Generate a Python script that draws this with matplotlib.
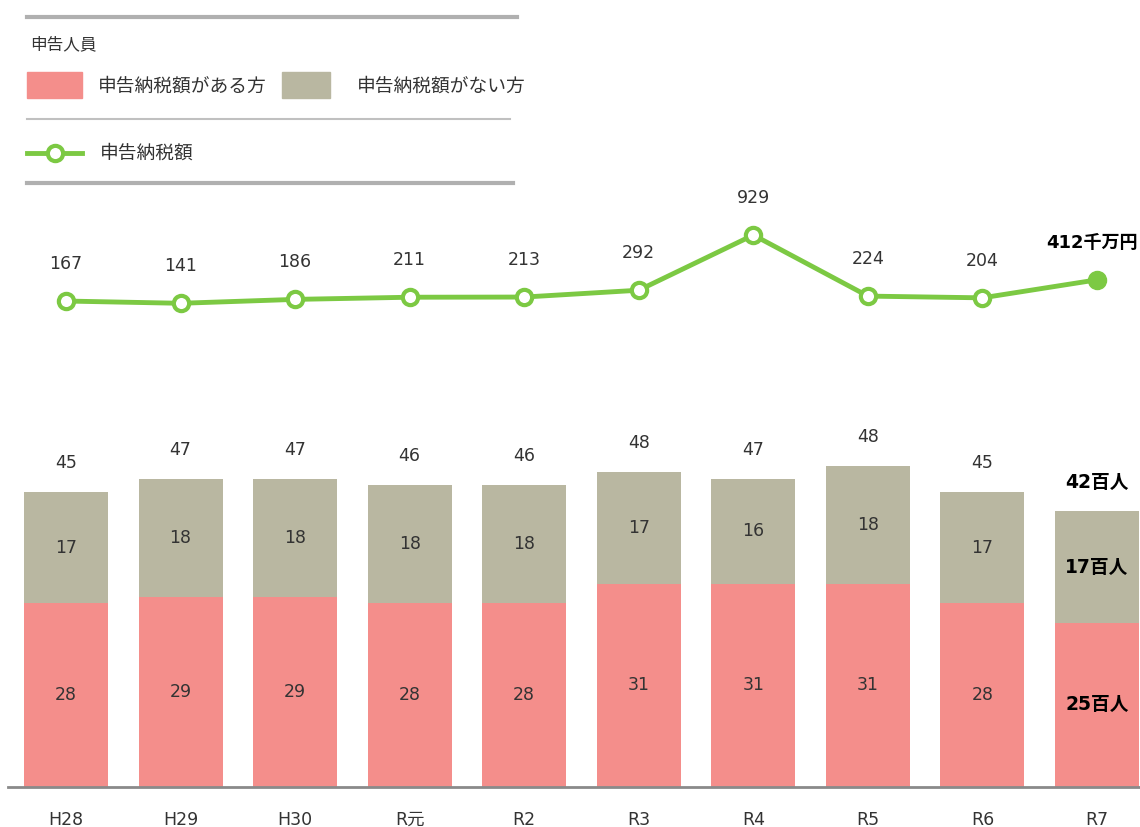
import matplotlib.pyplot as plt
from matplotlib.lines import Line2D
from matplotlib.patches import Rectangle

plt.rcParams['font.family'] = ['DejaVu Sans', 'Noto Sans CJK JP']

# データ
years = ['H28', 'H29', 'H30', 'R元', 'R2', 'R3', 'R4', 'R5', 'R6', 'R7']
with_tax = [28, 29, 29, 28, 28, 31, 31, 31, 28, 25]      # 申告納税額がある方 (百人)
without_tax = [17, 18, 18, 18, 18, 17, 16, 18, 17, 17]   # 申告納税額がない方 (百人)
totals = [45, 47, 47, 46, 46, 48, 47, 48, 45, 42]
tax_amount = [167, 141, 186, 211, 213, 292, 929, 224, 204, 412]  # 千万円

c_pink = '#F48E8B'
c_khaki = '#B9B7A1'
c_green = '#7CC943'
c_text = '#333333'
jp = ['Noto Sans CJK JP', 'DejaVu Sans']

W, H = 1140, 827
fig = plt.figure(figsize=(W / 100, H / 100), dpi=100)


def fx(px):
    return px / W


def fy(py):
    return 1 - py / H


x = list(range(len(years)))
step = 114.56
xl = ((8 - 66) / step, (8 - 66) / step + 1132 / step)

# 棒グラフ
ax = fig.add_axes([fx(8), fy(787), fx(1132), (787 - 400) / H])
ax.bar(x, with_tax, width=0.733, color=c_pink, zorder=2)
ax.bar(x, without_tax, width=0.733, bottom=with_tax, color=c_khaki, zorder=2)
ax.set_xlim(*xl)
ax.set_ylim(0, 387 / 6.56)
for s in ['top', 'right', 'left']:
    ax.spines[s].set_visible(False)
ax.spines['bottom'].set_color('#8a8a8a')
ax.spines['bottom'].set_linewidth(2)
ax.set_yticks([])
ax.set_xticks(x)
ax.set_xticklabels(years, fontsize=12.5, color=c_text)
ax.tick_params(axis='x', length=0, pad=17)

n = len(years)
for i in range(n):
    last = i == n - 1
    fw = 'bold' if last else 'normal'
    suf = '百人' if last else ''
    fs = 13.5 if last else 12.5
    col = 'black' if last else c_text
    ax.text(i, with_tax[i] / 2, f'{with_tax[i]}{suf}', ha='center', va='center',
            fontsize=fs, color=col, fontweight=fw)
    ax.text(i, with_tax[i] + without_tax[i] / 2, f'{without_tax[i]}{suf}', ha='center',
            va='center', fontsize=fs, color=col, fontweight=fw)
    ax.annotate(f'{totals[i]}{suf}', (i, with_tax[i] + without_tax[i]), xytext=(0, 29),
                textcoords='offset pixels', ha='center', va='center', fontsize=fs,
                color=col, fontweight=fw)

# 折れ線グラフ
ax2 = fig.add_axes([fx(8), fy(315.5), fx(1132), (315.5 - 180) / H])
ax2.set_xlim(*xl)
ax2.set_ylim(0, (315.5 - 180) / 0.0866)
ax2.axis('off')
ax2.plot(x, tax_amount, color=c_green, lw=3.5, zorder=2, clip_on=False)
ax2.plot(x[:-1], tax_amount[:-1], 'o', ms=11, mfc='white', mec=c_green, mew=3,
         zorder=3, clip_on=False)
ax2.plot(x[-1:], tax_amount[-1:], 'o', ms=13, mfc=c_green, mec=c_green,
         zorder=3, clip_on=False)
for i in range(n):
    last = i == n - 1
    ax2.annotate(f'{tax_amount[i]}千万円' if last else f'{tax_amount[i]}',
                 (i, tax_amount[i]), xytext=(-5 if last else 0, 37),
                 textcoords='offset pixels',
                 ha='center', va='center', fontsize=13 if last else 12.5,
                 color='black' if last else c_text,
                 fontweight='bold' if last else 'normal', annotation_clip=False)

# 凡例
fig.add_artist(Line2D([fx(27), fx(517)], [fy(17), fy(17)], color='#b0b0b0', lw=3))
fig.add_artist(Line2D([fx(27), fx(510)], [fy(119), fy(119)], color='#c0c0c0', lw=1.5))
fig.add_artist(Line2D([fx(27), fx(513)], [fy(183), fy(183)], color='#b0b0b0', lw=3))
fig.text(fx(30), fy(45), '申告人員', fontsize=12, color=c_text, va='center', family=jp)
fig.add_artist(Rectangle((fx(27), fy(98)), fx(55), 26 / H, color=c_pink))
fig.text(fx(98), fy(86), '申告納税額がある方', fontsize=13.5, color=c_text, va='center',
         family=jp)
fig.add_artist(Rectangle((fx(282), fy(98)), fx(48), 26 / H, color=c_khaki))
fig.text(fx(357), fy(86), '申告納税額がない方', fontsize=13.5, color=c_text, va='center',
         family=jp)
fig.add_artist(Line2D([fx(27), fx(82)], [fy(153), fy(153)], color=c_green, lw=3.5))
fig.add_artist(Line2D([fx(55)], [fy(153)], marker='o', ms=11, mfc='white',
                      mec=c_green, mew=3))
fig.text(fx(100), fy(153), '申告納税額', fontsize=13.5, color=c_text, va='center', family=jp)

fig.savefig('out.png', dpi=100)
